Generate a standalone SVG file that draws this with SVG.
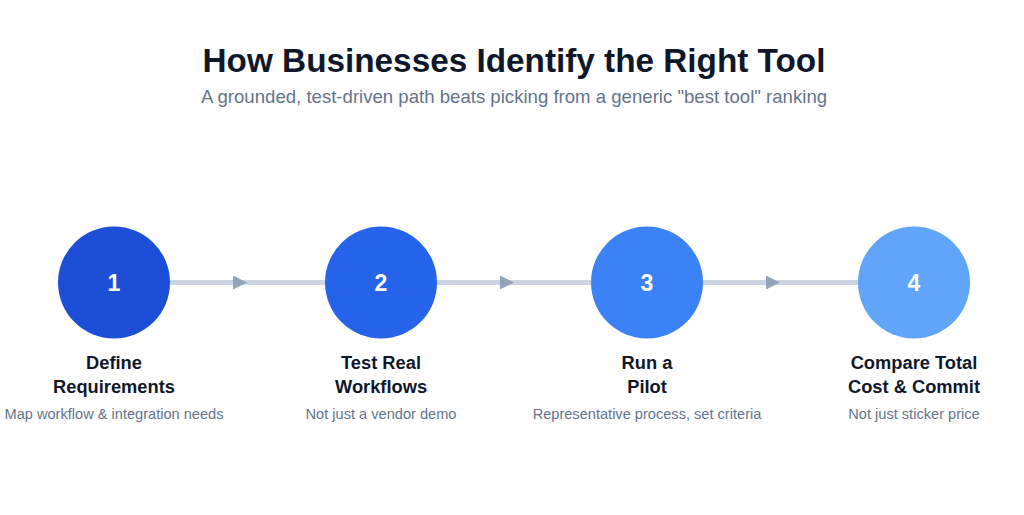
<svg xmlns="http://www.w3.org/2000/svg" width="1024" height="515" viewBox="0 0 1024 515">
<style>
.title{font-family:"Liberation Sans",Arial,sans-serif;font-weight:bold;font-size:33.3px;fill:#0f172a;text-anchor:middle}
.sub{font-family:"Liberation Sans",Arial,sans-serif;font-size:18.6px;fill:#64748b;text-anchor:middle}
.num{font-family:"Liberation Sans",Arial,sans-serif;font-weight:bold;font-size:23px;fill:#ffffff;text-anchor:middle}
.lab{font-family:"Liberation Sans",Arial,sans-serif;font-weight:bold;font-size:18.3px;fill:#0f172a;text-anchor:middle}
.desc{font-family:"Liberation Sans",Arial,sans-serif;font-size:14.6px;fill:#64748b;text-anchor:middle}
.conn{stroke:#cbd5e1;stroke-width:5;fill:none;marker-mid:url(#arr)}
</style>
<defs>
<marker id="arr" viewBox="0 0 10 10" refX="10" refY="5" markerWidth="14" markerHeight="14" markerUnits="userSpaceOnUse" orient="auto">
<path d="M0,0 L10,5 L0,10 z" fill="#94a3b8"/>
</marker>
</defs>
<rect width="1024" height="515" fill="#ffffff"/>
<text class="title" x="514" y="72">How Businesses Identify the Right Tool</text>
<text class="sub" x="514" y="103">A grounded, test-driven path beats picking from a generic "best tool" ranking</text>
<g id="connectors">
<path class="conn" d="M170,282.5 L247,282.5 L325,282.5"/>
<path class="conn" d="M437,282.5 L514,282.5 L591,282.5"/>
<path class="conn" d="M703,282.5 L780,282.5 L858,282.5"/>
</g>
<g id="step1">
<circle cx="114" cy="282.5" r="56" fill="#1d4ed8"/>
<text class="num" x="114" y="291">1</text>
<text class="lab" x="114" y="369">Define</text>
<text class="lab" x="114" y="393">Requirements</text>
<text class="desc" x="114" y="419">Map workflow &amp; integration needs</text>
</g>
<g id="step2">
<circle cx="381" cy="282.5" r="56" fill="#2563eb"/>
<text class="num" x="381" y="291">2</text>
<text class="lab" x="381" y="369">Test Real</text>
<text class="lab" x="381" y="393">Workflows</text>
<text class="desc" x="381" y="419">Not just a vendor demo</text>
</g>
<g id="step3">
<circle cx="647" cy="282.5" r="56" fill="#3b82f6"/>
<text class="num" x="647" y="291">3</text>
<text class="lab" x="647" y="369">Run a</text>
<text class="lab" x="647" y="393">Pilot</text>
<text class="desc" x="647" y="419">Representative process, set criteria</text>
</g>
<g id="step4">
<circle cx="914" cy="282.5" r="56" fill="#60a5fa"/>
<text class="num" x="914" y="291">4</text>
<text class="lab" x="914" y="369">Compare Total</text>
<text class="lab" x="914" y="393">Cost &amp; Commit</text>
<text class="desc" x="914" y="419">Not just sticker price</text>
</g>
</svg>
